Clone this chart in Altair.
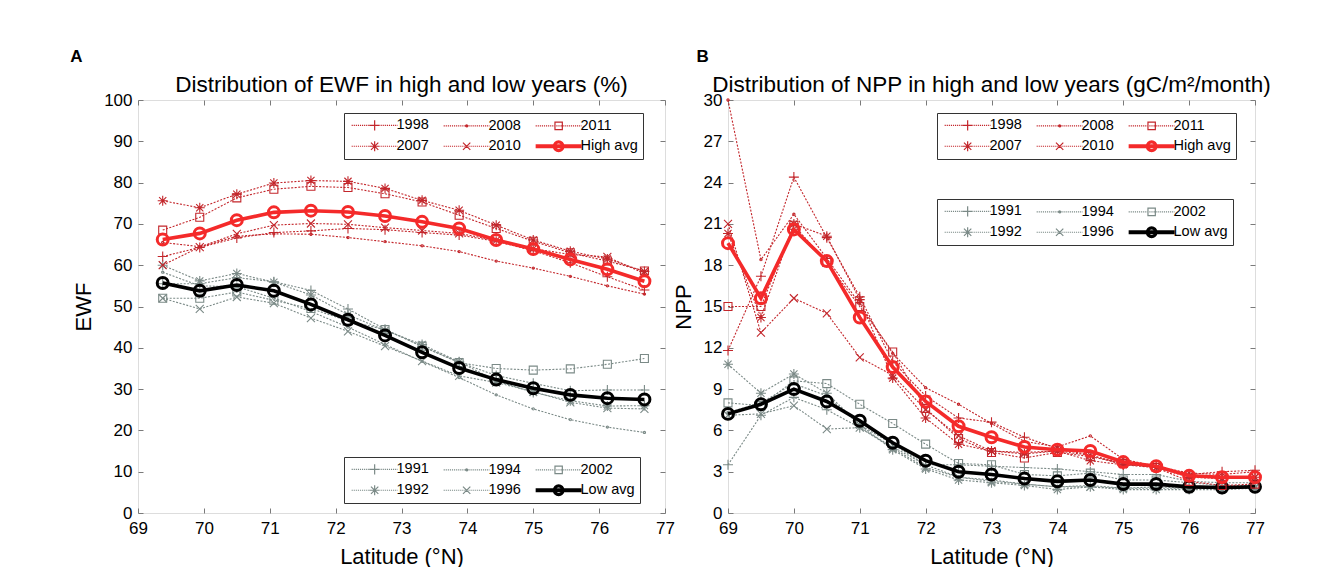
import altair as alt
import pandas as pd

# ---------------- data ----------------
lat_a = [69.375, 69.9375, 70.5, 71.0625, 71.625, 72.1875, 72.75,
         73.3125, 73.875, 74.4375, 75.0, 75.5625, 76.125, 76.6875]

ewf_1998 = [62.1, 64.3, 66.6, 67.9, 68.3, 68.9, 68.6, 67.9, 67.3, 65.8, 63.5, 60.6, 57.2, 54.0]
ewf_2007 = [75.6, 73.9, 77.2, 79.9, 80.5, 80.3, 78.6, 75.7, 73.3, 69.7, 66.1, 63.4, 61.5, 58.5]
ewf_2008 = [65.5, 64.5, 67.0, 67.6, 67.5, 66.7, 65.7, 64.7, 63.3, 61.0, 59.3, 57.3, 55.0, 53.0]
ewf_2010 = [60.0, 64.4, 67.6, 69.7, 70.1, 69.9, 69.1, 68.4, 67.7, 66.0, 64.0, 62.6, 62.0, 58.0]
ewf_2011 = [68.5, 71.6, 76.3, 78.4, 79.1, 78.8, 77.3, 75.3, 72.1, 68.9, 65.8, 63.0, 61.0, 58.6]
ewf_high = [66.2, 67.7, 70.9, 72.8, 73.2, 72.9, 71.9, 70.5, 68.9, 66.1, 63.9, 61.4, 59.0, 56.1]

ewf_1991 = [55.5, 55.5, 57.0, 56.0, 53.9, 49.4, 44.5, 40.3, 36.5, 33.3, 31.4, 29.6, 29.8, 29.8]
ewf_1992 = [60.0, 56.2, 58.0, 55.9, 52.8, 48.0, 44.2, 40.8, 36.6, 32.0, 29.2, 27.2, 25.9, 26.0]
ewf_1994 = [58.3, 55.0, 54.8, 52.0, 48.8, 45.0, 40.8, 36.7, 32.8, 28.6, 25.2, 22.6, 20.8, 19.5]
ewf_1996 = [52.0, 49.4, 52.3, 50.8, 47.2, 44.0, 40.4, 36.8, 33.2, 31.6, 29.4, 26.8, 25.4, 25.2]
ewf_2002 = [52.0, 52.0, 53.5, 51.5, 49.5, 46.5, 44.4, 40.4, 36.4, 35.0, 34.6, 34.9, 36.0, 37.4]
ewf_low = [55.7, 53.8, 55.2, 53.8, 50.5, 46.8, 43.0, 38.9, 35.1, 32.3, 30.2, 28.6, 27.8, 27.5]

lat_b = [69.0, 69.5, 70.0, 70.5, 71.0, 71.5, 72.0, 72.5, 73.0,
         73.5, 74.0, 74.5, 75.0, 75.5, 76.0, 76.5, 77.0]

npp_1998 = [11.8, 17.2, 24.4, 20.0, 15.7, 11.0, 8.5, 6.9, 6.6, 5.5, 4.7, 4.2, 3.5, 3.4, 2.8, 3.0, 3.1]
npp_2007 = [20.3, 14.2, 21.0, 20.1, 15.5, 9.8, 6.9, 5.0, 4.5, 4.3, 4.5, 3.8, 3.5, 3.3, 2.6, 2.5, 2.6]
npp_2008 = [30.0, 18.4, 21.7, 18.5, 15.2, 11.6, 9.1, 7.9, 6.5, 5.2, 4.8, 5.6, 3.9, 3.4, 2.9, 2.8, 3.0]
npp_2010 = [21.0, 13.1, 15.6, 14.5, 11.3, 10.0, 7.5, 5.6, 4.5, 4.4, 4.5, 4.2, 3.6, 3.3, 2.7, 2.5, 2.6]
npp_2011 = [15.0, 15.0, 20.9, 18.2, 15.0, 11.7, 7.6, 5.4, 4.4, 4.0, 4.4, 4.1, 3.6, 3.3, 2.3, 2.0, 2.1]
npp_high = [19.6, 15.6, 20.6, 18.3, 14.2, 10.6, 8.1, 6.3, 5.5, 4.8, 4.6, 4.5, 3.7, 3.4, 2.7, 2.6, 2.6]

npp_1991 = [3.5, 7.1, 8.4, 7.5, 6.2, 4.8, 3.5, 3.5, 3.4, 3.3, 3.2, 3.0, 2.8, 2.8, 2.3, 2.2, 2.2]
npp_1992 = [10.8, 8.7, 10.1, 8.7, 6.4, 4.6, 3.2, 2.4, 2.2, 2.0, 1.7, 1.9, 1.7, 1.7, 1.7, 1.7, 1.8]
npp_1994 = [7.3, 8.0, 9.4, 8.5, 6.4, 5.0, 3.5, 2.6, 2.4, 2.1, 1.9, 2.0, 1.8, 1.8, 1.8, 1.8, 1.9]
npp_1996 = [7.1, 7.2, 7.8, 6.1, 6.2, 4.7, 3.3, 2.6, 2.3, 2.1, 1.9, 1.9, 1.8, 1.9, 1.8, 1.9, 1.9]
npp_2002 = [8.0, 7.8, 9.6, 9.4, 7.9, 6.5, 5.0, 3.6, 3.5, 2.8, 2.7, 2.9, 2.4, 2.4, 2.2, 2.0, 2.0]
npp_low = [7.2, 7.9, 9.0, 8.1, 6.7, 5.1, 3.8, 3.0, 2.8, 2.5, 2.3, 2.4, 2.1, 2.1, 1.9, 1.85, 1.9]

# legend order (filled column by column, two rows)
high_years = ["1998", "2007", "2008", "2010", "2011"]
low_years = ["1991", "1992", "1994", "1996", "2002"]
year_marks = ["plus", "star", "dot", "x", "square"]

x_ticks = [69, 70, 71, 72, 73, 74, 75, 76, 77]
ewf_ticks = [0, 10, 20, 30, 40, 50, 60, 70, 80, 90, 100]
npp_ticks = [0, 3, 6, 9, 12, 15, 18, 21, 24, 27, 30]

# ---------------- style ----------------
FONT = "Liberation Sans"
HIGH_LINE = "#c3262b"
HIGH_AVG = "#f42a2a"
LOW_LINE = "#7b8a87"
LOW_AVG = "#000000"
FRAME = "#7a7a7a"

MARK = {
    "plus": "M-1,0H1M0,-1V1",
    "star": "M-1,0H1M0,-1V1M-0.72,-0.72L0.72,0.72M-0.72,0.72L0.72,-0.72",
    "dot": "M-0.22,0A0.22,0.22 0 1,0 0.22,0A0.22,0.22 0 1,0 -0.22,0",
    "x": "M-0.8,-0.8L0.8,0.8M-0.8,0.8L0.8,-0.8",
    "square": "M-0.8,-0.8H0.8V0.8H-0.8Z",
}


def dots(x0, x1, step=0.45, dash=0.25):
    parts = []
    x = x0
    while x < x1 - 1e-9:
        e = min(x + dash, x1)
        parts.append(f"M{x:.2f},0H{e:.2f}")
        x += step
    return "".join(parts)


C = 4.0


def leg_marker(kind):
    c = C
    if kind == "plus":
        return f"M{c-1.1},0H{c+1.1}M{c},-1.1V1.1"
    if kind == "star":
        return (f"M{c-1.1},0H{c+1.1}M{c},-1.1V1.1"
                f"M{c-0.8},-0.8L{c+0.8},0.8M{c-0.8},0.8L{c+0.8},-0.8")
    if kind == "dot":
        return f"M{c-0.22},0A0.22,0.22 0 1,0 {c+0.22},0A0.22,0.22 0 1,0 {c-0.22},0"
    if kind == "x":
        return f"M{c-0.8},-0.8L{c+0.8},0.8M{c-0.8},0.8L{c+0.8},-0.8"
    if kind == "square":
        return f"M{c-0.8},-0.8H{c+0.8}V0.8H{c-0.8}Z"
    return ""


def ring(r):
    return f"M{C-r},0A{r},{r} 0 1,0 {C+r},0A{r},{r} 0 1,0 {C-r},0"


AVG_PATH = ("M-1,-0.3H9M-1,-0.1H9M-1,0.1H9M-1,0.3H9"
            + ring(1.15) + ring(1.0) + ring(0.85) + ring(0.72))


def leg_path(kind):
    return dots(-1, 9) + leg_marker(kind)


def frame(lat, series):
    rows = []
    for name, vals in series.items():
        for x, v in zip(lat, vals):
            rows.append({"lat": x, "value": v, "series": name})
    return pd.DataFrame(rows)


def panel(lat, high, low, ymax, yticks, ytitle, title, leg_hi, leg_lo):
    df = frame(lat, {**high, **low})
    base = alt.Chart(df)
    xs = alt.Scale(domain=[69, 77], nice=False, zero=False)
    ys = alt.Scale(domain=[0, ymax], nice=False, zero=False)

    common = dict(tickSize=5, offset=-5, domain=False, grid=False, tickColor=FRAME,
                  tickWidth=1, labelFont=FONT, labelFontSize=17, labelColor="black",
                  titleFont=FONT, titleFontSize=22, titleFontWeight="normal",
                  titleColor="black")
    ax_bottom = alt.Axis(orient="bottom", values=x_ticks, labelPadding=7,
                         title="Latitude (°N)", titlePadding=10, labelFlush=False,
                         **common)
    ax_left = alt.Axis(orient="left", values=yticks, labelPadding=6,
                       title=ytitle, titlePadding=8, **common)
    ax_top = alt.Axis(orient="top", values=x_ticks, labels=False, title=None,
                      minExtent=0, maxExtent=0, **common)
    ax_right = alt.Axis(orient="right", values=yticks, labels=False, title=None,
                        minExtent=0, maxExtent=0, **common)

    def X(axis):
        return alt.X("lat:Q", scale=xs, axis=axis)

    def Y(axis):
        return alt.Y("value:Q", scale=ys, axis=axis)

    def group_layers(names, avg_name, line_col, avg_col, xa, ya):
        yrs = base.transform_filter(alt.FieldOneOfPredicate(field="series", oneOf=names))
        avg = base.transform_filter(alt.FieldEqualPredicate(field="series", equal=avg_name))
        lines = yrs.mark_line(strokeDash=[2, 1.5], strokeWidth=1.1, color=line_col).encode(
            x=X(xa), y=Y(ya), detail="series:N")
        pts = yrs.mark_point(filled=False, size=100, strokeWidth=1.1, color=line_col,
                             opacity=1).encode(
            x=X(None), y=Y(None),
            shape=alt.Shape("series:N", scale=alt.Scale(domain=names,
                                                        range=[MARK[m] for m in year_marks]),
                            legend=None))
        aline = avg.mark_line(strokeWidth=3.6, color=avg_col).encode(x=X(None), y=Y(None))
        apts = avg.mark_point(shape="circle", filled=False, size=120, strokeWidth=3,
                              color=avg_col, opacity=1).encode(x=X(None), y=Y(None))
        return [lines, pts, aline, apts]

    def legend_layer(names, avg_name, line_col, avg_col, pos):
        dom = names + [avg_name]
        leg = alt.Legend(title=None, orient="none", legendX=pos[0], legendY=pos[1],
                         columns=3, symbolSize=84.6, symbolStrokeWidth=1.2,
                         labelFont=FONT, labelFontSize=14.5, labelColor="black",
                         labelOffset=33, padding=5, columnPadding=12, rowPadding=5,
                         strokeColor="#333333", fillColor="white", labelLimit=200)
        return base.transform_filter("false").mark_point(
            filled=False, strokeWidth=1.2, opacity=1).encode(
            color=alt.Color("series:N",
                            scale=alt.Scale(domain=dom, range=[line_col] * 5 + [avg_col]),
                            legend=leg),
            shape=alt.Shape("series:N",
                            scale=alt.Scale(domain=dom,
                                            range=[leg_path(m) for m in year_marks] + [AVG_PATH]),
                            legend=leg))

    layers = (group_layers(low_years, "Low avg", LOW_LINE, LOW_AVG, ax_top, ax_right)
              + group_layers(high_years, "High avg", HIGH_LINE, HIGH_AVG, ax_bottom, ax_left)
              + [legend_layer(high_years, "High avg", HIGH_LINE, HIGH_AVG, leg_hi),
                 legend_layer(low_years, "Low avg", LOW_LINE, LOW_AVG, leg_lo)])
    chart = alt.layer(*layers).resolve_scale(
        color="independent", shape="independent").resolve_axis(
        x="independent", y="independent").properties(
        width=527, height=413,
        title=alt.Title(title, font=FONT, fontSize=22.5, fontWeight="normal",
                        color="black", anchor="middle", frame="group",
                        baseline="alphabetic", offset=-23))
    return chart


high_a = {"1998": ewf_1998, "2007": ewf_2007, "2008": ewf_2008, "2010": ewf_2010,
          "2011": ewf_2011, "High avg": ewf_high}
low_a = {"1991": ewf_1991, "1992": ewf_1992, "1994": ewf_1994, "1996": ewf_1996,
         "2002": ewf_2002, "Low avg": ewf_low}
high_b = {"1998": npp_1998, "2007": npp_2007, "2008": npp_2008, "2010": npp_2010,
          "2011": npp_2011, "High avg": npp_high}
low_b = {"1991": npp_1991, "1992": npp_1992, "1994": npp_1994, "1996": npp_1996,
         "2002": npp_2002, "Low avg": npp_low}

pa = panel(lat_a, high_a, low_a, 100, ewf_ticks, "EWF",
           "Distribution of EWF in high and low years (%)", (206, 13), (206, 357))
pb = panel(lat_b, high_b, low_b, 30, npp_ticks, "NPP",
           "Distribution of NPP in high and low years (gC/m²/month)", (209, 13), (209, 99))


def labelled(ch, letter, dx):
    return alt.vconcat(ch, title=alt.Title(letter, font=FONT, fontSize=17, fontWeight="bold",
                                           color="black", anchor="start", frame="bounds",
                                           baseline="alphabetic", offset=-6, dx=dx))


chart = alt.hconcat(labelled(pa, "A", -2), labelled(pb, "B", 25), spacing=-4).properties(
    padding={"left": 62, "top": 40, "right": 5, "bottom": 0}
).configure_view(stroke=FRAME, strokeWidth=1).configure(background="white")

chart.save("out.html", embed_options={"renderer": "svg", "actions": False})
